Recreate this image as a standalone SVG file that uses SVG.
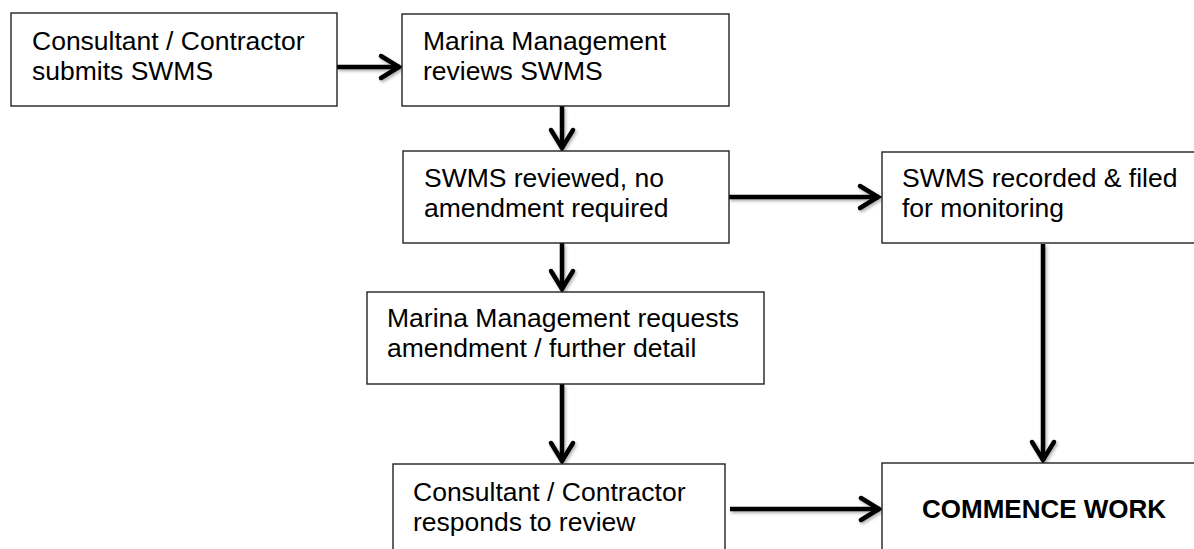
<svg xmlns="http://www.w3.org/2000/svg" width="1194" height="549" viewBox="0 0 1194 549">
  <style>
    .box { fill: #fff; stroke: #222; stroke-width: 1.4; }
    .t { font-family: "Liberation Sans", Arial, sans-serif; font-size: 26.5px; fill: #000; }
    .b { font-weight: bold; font-size: 26px; }
    .conn { stroke: #000; stroke-width: 4.5; fill: none; marker-end: url(#chev); }
  </style>
  <defs>
    <marker id="chev" markerUnits="userSpaceOnUse" markerWidth="40" markerHeight="40" refX="0" refY="0" orient="auto" overflow="visible">
      <path d="M -19 -11 L -1 0 L -19 11" fill="none" stroke="#000" stroke-width="4.5" stroke-linecap="round" stroke-linejoin="miter"/>
    </marker>
    <filter id="sh" filterUnits="userSpaceOnUse" x="0" y="0" width="1194" height="549">
      <feDropShadow dx="1.5" dy="2" stdDeviation="1.5" flood-color="#000" flood-opacity="0.3"/>
    </filter>
  </defs>

  <g id="connectors" filter="url(#sh)">
    <path class="conn" d="M 337 67 L 400 67"/>
    <path class="conn" d="M 562 106 L 562 149"/>
    <path class="conn" d="M 729 197 L 879 197"/>
    <path class="conn" d="M 562 243 L 562 290"/>
    <path class="conn" d="M 562 384 L 562 462"/>
    <path class="conn" d="M 1043 244 L 1043 461"/>
    <path class="conn" d="M 730 509 L 880 509"/>
  </g>

  <g id="n1">
    <rect class="box" x="11" y="13" width="326" height="93"/>
    <text class="t" x="32" y="50">Consultant / Contractor</text>
    <text class="t" x="32" y="80">submits SWMS</text>
  </g>
  <g id="n2">
    <rect class="box" x="402" y="14" width="327" height="92"/>
    <text class="t" x="423" y="50">Marina Management</text>
    <text class="t" x="423" y="80">reviews SWMS</text>
  </g>
  <g id="n3">
    <rect class="box" x="403" y="151" width="326" height="92"/>
    <text class="t" x="424" y="187">SWMS reviewed, no</text>
    <text class="t" x="424" y="217">amendment required</text>
  </g>
  <g id="n4">
    <rect class="box" x="882" y="152" width="330" height="91"/>
    <text class="t" x="902" y="187">SWMS recorded &amp; filed</text>
    <text class="t" x="902" y="217">for monitoring</text>
  </g>
  <g id="n5">
    <rect class="box" x="367" y="292" width="397" height="92"/>
    <text class="t" x="387" y="327">Marina Management requests</text>
    <text class="t" x="387" y="357">amendment / further detail</text>
  </g>
  <g id="n6">
    <rect class="box" x="393" y="464" width="332" height="100"/>
    <text class="t" x="413" y="501">Consultant / Contractor</text>
    <text class="t" x="413" y="531">responds to review</text>
  </g>
  <g id="n7">
    <rect class="box" x="882" y="463" width="330" height="100"/>
    <text class="t b" x="922" y="518">COMMENCE WORK</text>
  </g>
</svg>
